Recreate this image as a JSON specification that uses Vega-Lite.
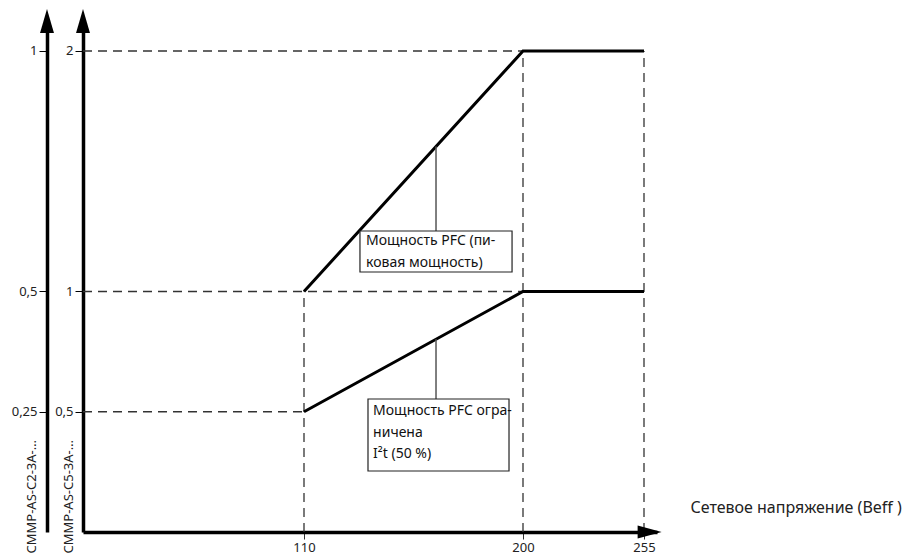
{
  "$schema": "https://vega.github.io/schema/vega-lite/v6.json",
  "autosize": "none",
  "width": 574,
  "height": 502,
  "padding": {"left": 83, "top": 30, "right": 249, "bottom": 26},
  "background": "white",
  "config": {
    "view": {"stroke": null},
    "font": "Noto Sans",
    "axis": {
      "grid": false,
      "domainColor": "black",
      "domainWidth": 3.5,
      "tickColor": "black",
      "tickWidth": 1,
      "tickSize": 8,
      "labelColor": "#222",
      "labelFontSize": 13,
      "labelFont": "Noto Sans",
      "labelPadding": 2,
      "titleFont": "Noto Sans",
      "titleFontWeight": "normal",
      "titleColor": "#222"
    }
  },
  "datasets": {
    "guides": [
      {"x": 0, "x2": 255, "y": 2, "y2": 2},
      {"x": 0, "x2": 200, "y": 1, "y2": 1},
      {"x": 0, "x2": 110, "y": 0.5, "y2": 0.5},
      {"x": 110, "x2": 110, "y": 0, "y2": 1},
      {"x": 200, "x2": 200, "y": 0, "y2": 2},
      {"x": 255, "x2": 255, "y": 0, "y2": 2}
    ],
    "curves": [
      {"series": "peak", "x": 110, "y": 1},
      {"series": "peak", "x": 200, "y": 2},
      {"series": "peak", "x": 255, "y": 2},
      {"series": "i2t", "x": 110, "y": 0.5},
      {"series": "i2t", "x": 200, "y": 1},
      {"series": "i2t", "x": 255, "y": 1}
    ],
    "leaders": [
      {"x": 164.25, "y": 1.603, "y2": 1.2516},
      {"x": 164.25, "y": 0.801, "y2": 0.553}
    ],
    "boxes": [
      {"x": 133.0, "x2": 195.5, "y": 1.2516, "y2": 1.081},
      {"x": 136.3, "x2": 194.25, "y": 0.553, "y2": 0.2536}
    ],
    "labels": [
      {"x": 135.5, "y": 1.239, "text": "Мощность PFC (пи-\nковая мощность)"},
      {"x": 138.4, "y": 0.532, "text": "Мощность PFC огра-\nничена\nI²t (50 %)"}
    ],
    "vArrows": [
      {"x": 0, "y": 2.1247},
      {"x": -17.92, "y": 2.1247}
    ],
    "hArrows": [
      {"x": 265.85, "y": 0}
    ]
  },
  "resolve": {"axis": {"y": "independent"}},
  "layer": [
    {
      "data": {"name": "guides"},
      "mark": {"type": "rule", "color": "#333", "strokeWidth": 1.3, "strokeDash": [9, 6]},
      "encoding": {
        "x": {
          "field": "x", "type": "quantitative",
          "scale": {"domain": [0, 110, 200, 255, 261], "range": [0, 221, 440, 561, 574]},
          "axis": {
            "values": [110, 200, 255],
            "tickSize": 7,
            "tickColor": "#333",
            "labelPadding": 2,
            "title": "Сетевое напряжение (Beff )",
            "titleFontSize": 16,
            "titleAlign": "left",
            "titleBaseline": "middle",
            "titleX": 607,
            "titleY": -25
          }
        },
        "x2": {"field": "x2"},
        "y": {
          "field": "y", "type": "quantitative",
          "scale": {"domain": [0, 2.0873], "nice": false, "zero": false},
          "axis": {
            "orient": "left",
            "values": [0.5, 1, 2],
            "labelExpr": "datum.value == 0.5 ? '0,5' : datum.value == 1 ? '1' : '2'",
            "title": "CMMP-AS-C5-3A-…",
            "titleFontSize": 13,
            "titleAngle": -90,
            "titleAlign": "left",
            "titleBaseline": "alphabetic",
            "titleX": -11,
            "titleY": 523
          }
        },
        "y2": {"field": "y2"}
      }
    },
    {
      "data": {"name": "curves"},
      "mark": {"type": "line", "color": "black", "strokeWidth": 3},
      "encoding": {
        "x": {"field": "x", "type": "quantitative"},
        "y": {
          "field": "y", "type": "quantitative",
          "axis": {
            "orient": "left",
            "offset": 36,
            "values": [0.5, 1, 2],
            "labelExpr": "datum.value == 2 ? '1' : datum.value == 1 ? '0,5' : '0,25'",
            "title": "CMMP-AS-C2-3A-…",
            "titleFontSize": 13,
            "titleAngle": -90,
            "titleAlign": "left",
            "titleBaseline": "alphabetic",
            "titleX": -12,
            "titleY": 523
          }
        },
        "detail": {"field": "series"}
      }
    },
    {
      "data": {"name": "leaders"},
      "mark": {"type": "rule", "color": "#555", "strokeWidth": 1.5},
      "encoding": {
        "x": {"field": "x", "type": "quantitative"},
        "y": {"field": "y", "type": "quantitative", "axis": null},
        "y2": {"field": "y2"}
      }
    },
    {
      "data": {"name": "boxes"},
      "mark": {"type": "rect", "fill": "white", "stroke": "#222", "strokeWidth": 1.2},
      "encoding": {
        "x": {"field": "x", "type": "quantitative"},
        "x2": {"field": "x2"},
        "y": {"field": "y", "type": "quantitative", "axis": null},
        "y2": {"field": "y2"}
      }
    },
    {
      "data": {"name": "labels"},
      "mark": {"type": "text", "align": "left", "baseline": "top", "lineBreak": "\n", "lineHeight": 21.5, "fontSize": 14, "font": "Noto Sans", "color": "#111"},
      "encoding": {
        "x": {"field": "x", "type": "quantitative"},
        "y": {"field": "y", "type": "quantitative", "axis": null},
        "text": {"field": "text"}
      }
    },
    {
      "data": {"name": "vArrows"},
      "mark": {"type": "point", "filled": true, "color": "black", "opacity": 1, "size": 576, "shape": "M-0.58,1L0,-1L0.58,1Z"},
      "encoding": {
        "x": {"field": "x", "type": "quantitative"},
        "y": {"field": "y", "type": "quantitative", "axis": null}
      }
    },
    {
      "data": {"name": "hArrows"},
      "mark": {"type": "point", "filled": true, "color": "black", "opacity": 1, "size": 576, "shape": "M-1,-0.55L1,0L-1,0.55Z"},
      "encoding": {
        "x": {"field": "x", "type": "quantitative"},
        "y": {"field": "y", "type": "quantitative", "axis": null}
      }
    }
  ]
}
